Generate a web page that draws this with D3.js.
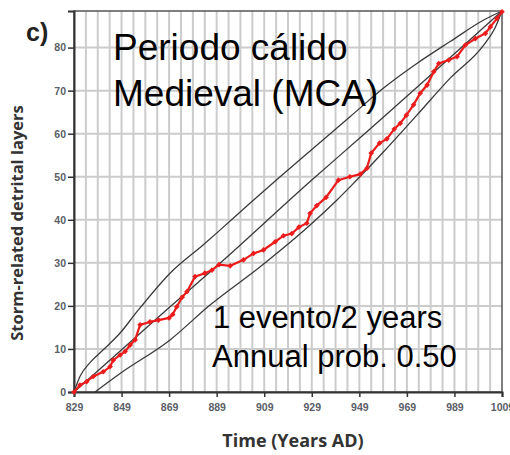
<!DOCTYPE html>
<html>
<head>
<meta charset="utf-8">
<script src="https://cdn.jsdelivr.net/npm/d3@7"></script>
<style>
  html, body { margin: 0; padding: 0; background: #fff; }
  svg { display: block; }
</style>
</head>
<body>
<svg id="chart" width="510" height="455"></svg>
<script>
// ---- Data ----
const xTickValues = [829, 849, 869, 889, 909, 929, 949, 969, 989, 1009];
const yTickValues = [0, 10, 20, 30, 40, 50, 60, 70, 80];

// Observed cumulative storm-related detrital layers
const obsYears  = [829, 831.5, 834.3, 837.1, 841.3, 844.2, 845.5, 848.4, 850.5, 852.6, 854.7, 856.8, 861, 864.5, 869, 870.5, 872.2, 874.5, 876.5, 879.9, 884, 887, 890, 894.7, 900.3, 904.5, 908.7, 913.6, 917.1, 920.6, 923.6, 926.9, 928.3, 931.1, 935, 940.2, 945, 949.4, 952.2, 954, 957.5, 960.6, 963.7, 966.2, 968.8, 971.8, 974.6, 977.5, 980.3, 982.4, 986.6, 990.1, 993.6, 997.8, 1002, 1004.1, 1006.9, 1009];
const obsCounts = [0, 1.6, 2.4, 3.6, 4.7, 5.9, 7.4, 8.6, 9.4, 10.9, 12.1, 15.6, 16.3, 16.7, 17.2, 18, 19.8, 22, 23.3, 26.8, 27.6, 28.3, 29.6, 29.3, 30.7, 32.2, 33, 34.9, 36.3, 36.8, 38.3, 39.2, 41.5, 43.3, 45.2, 49.2, 50, 50.6, 52, 55.5, 57.8, 58.8, 61.1, 62.4, 64.3, 66.7, 69.4, 71.3, 74.4, 76.3, 77.1, 77.9, 80.6, 82.1, 83.3, 84.8, 86.8, 88.3];

// Expected (constant rate) line
const meanYears  = [829, 869.4, 890.4, 928.3, 949.4, 1009];
const meanCounts = [0, 19.8, 29.9, 48.9, 59.1, 88.5];

// Upper envelope
const upperYears  = [829, 831.5, 836, 841.3, 848.4, 855.4, 869.4, 883.4, 890.4, 903.1, 914, 928.3, 945.2, 959.2, 973.2, 987.2, 1001.3, 1009];
const upperCounts = [0, 3.6, 7, 9.8, 13.7, 18.6, 27.6, 34.2, 37.6, 43.9, 49.2, 56, 64, 70.6, 76.3, 81.4, 86.4, 88.5];

// Lower envelope
const lowerYears  = [837.8, 848.4, 869.4, 886.2, 907.3, 928.3, 939.6, 945.2, 959.2, 973.2, 987.2, 1001.3, 1006, 1009];
const lowerCounts = [0, 4.3, 12.1, 20.2, 29.1, 38.8, 44.6, 47.7, 55.8, 64.3, 72.9, 80.6, 84.5, 88.5];

const xDomain = [829, 1009];
const yDomain = [0, 88.5];

// ---- Drawing ----
const svg = d3.select("#chart");
const L = 74, R = 502, T = 11, B = 392;

const x = d3.scaleLinear().domain(xDomain).range([L, R]);
const y = d3.scaleLinear().domain(yDomain).range([B, T]);

// Grid
const vGrid = d3.range(834, 1009, 5);
svg.append("g").selectAll("line").data(vGrid).join("line")
  .attr("x1", d => x(d)).attr("x2", d => x(d))
  .attr("y1", T).attr("y2", B)
  .attr("stroke", "#cccccc").attr("stroke-width", 2);
svg.append("g").selectAll("line").data(yTickValues.filter(d => d > 0)).join("line")
  .attr("x1", L).attr("x2", R)
  .attr("y1", d => y(d)).attr("y2", d => y(d))
  .attr("stroke", "#cccccc").attr("stroke-width", 2);

// Frame (top/right)
svg.append("rect").attr("x", L).attr("y", T).attr("width", R - L).attr("height", B - T)
  .attr("fill", "none").attr("stroke", "#555").attr("stroke-width", 1.5);

// Axes
const tickFont = "Liberation Sans, Arial, sans-serif";
const xAxis = d3.axisBottom(x).tickValues(xTickValues).tickSize(5).tickFormat(d3.format("d"));
const gx = svg.append("g").attr("transform", `translate(0,${B})`).call(xAxis);
gx.select(".domain").attr("stroke", "#333").attr("stroke-width", 2);
gx.selectAll(".tick line").attr("stroke", "#333").attr("stroke-width", 1.5);
gx.selectAll("text").attr("fill", "#5b6068").attr("font-family", tickFont)
  .attr("font-weight", "bold").attr("font-size", "10.5px").attr("y", 12);

const yAxis = d3.axisLeft(y).tickValues(yTickValues).tickSize(6).tickFormat(d3.format("d"));
const gy = svg.append("g").attr("transform", `translate(${L},0)`).call(yAxis);
gy.select(".domain").attr("stroke", "#333").attr("stroke-width", 2);
gy.selectAll(".tick line").attr("stroke", "#333").attr("stroke-width", 1.5);
gy.selectAll("text").attr("fill", "#5b6068").attr("font-family", tickFont)
  .attr("font-weight", "bold").attr("font-size", "10.5px").attr("x", -8);

// Envelope lines
const toPts = (xs, ys) => xs.map((v, i) => [v, ys[i]]);
const line = d3.line().x(d => x(d[0])).y(d => y(d[1])).curve(d3.curveMonotoneX);
const curveStyle = sel => sel.attr("fill", "none").attr("stroke", "#3a3a3a").attr("stroke-width", 1.3);
svg.append("path").datum(toPts(upperYears, upperCounts)).attr("d", line).call(curveStyle);
svg.append("path").datum(toPts(meanYears, meanCounts)).attr("d", line).call(curveStyle);
svg.append("path").datum(toPts(lowerYears, lowerCounts)).attr("d", line).call(curveStyle);

// Observed series
const obs = toPts(obsYears, obsCounts);
svg.append("path").datum(obs)
  .attr("d", d3.line().x(d => x(d[0])).y(d => y(d[1])))
  .attr("fill", "none").attr("stroke", "#ec1c1c").attr("stroke-width", 2.2);
svg.append("g").selectAll("rect").data(obs).join("rect")
  .attr("x", d => x(d[0]) - 2).attr("y", d => y(d[1]) - 2)
  .attr("width", 4).attr("height", 4)
  .attr("transform", d => `rotate(45,${x(d[0])},${y(d[1])})`)
  .attr("fill", "#ec1c1c");

// Annotations
const ann = svg.append("g").attr("font-family", "Liberation Sans, Arial, sans-serif").attr("fill", "#000");
ann.append("text").attr("x", 113).attr("y", 60).attr("font-size", "37px").text("Periodo cálido");
ann.append("text").attr("x", 113).attr("y", 106).attr("font-size", "37px").text("Medieval (MCA)");
ann.append("text").attr("x", 213).attr("y", 328).attr("font-size", "31px").text("1 evento/2 years");
ann.append("text").attr("x", 212).attr("y", 367).attr("font-size", "31px").text("Annual prob. 0.50");

// Panel label
svg.append("text").attr("x", 26).attr("y", 41)
  .attr("font-family", "Liberation Sans, Arial, sans-serif").attr("font-weight", "bold")
  .attr("font-size", "25px").attr("fill", "#222").text("c)");

// Axis titles
svg.append("text").attr("x", 293).attr("y", 447).attr("text-anchor", "middle")
  .attr("font-family", "Open Sans, sans-serif").attr("font-weight", "bold")
  .attr("font-size", "18px").attr("fill", "#333").text("Time (Years AD)");
svg.append("text").attr("transform", "translate(23,223) rotate(-90)").attr("text-anchor", "middle")
  .attr("font-family", "Open Sans, sans-serif").attr("font-weight", "bold")
  .attr("font-size", "16.5px").attr("fill", "#333").text("Storm-related detrital layers");
</script>
</body>
</html>
